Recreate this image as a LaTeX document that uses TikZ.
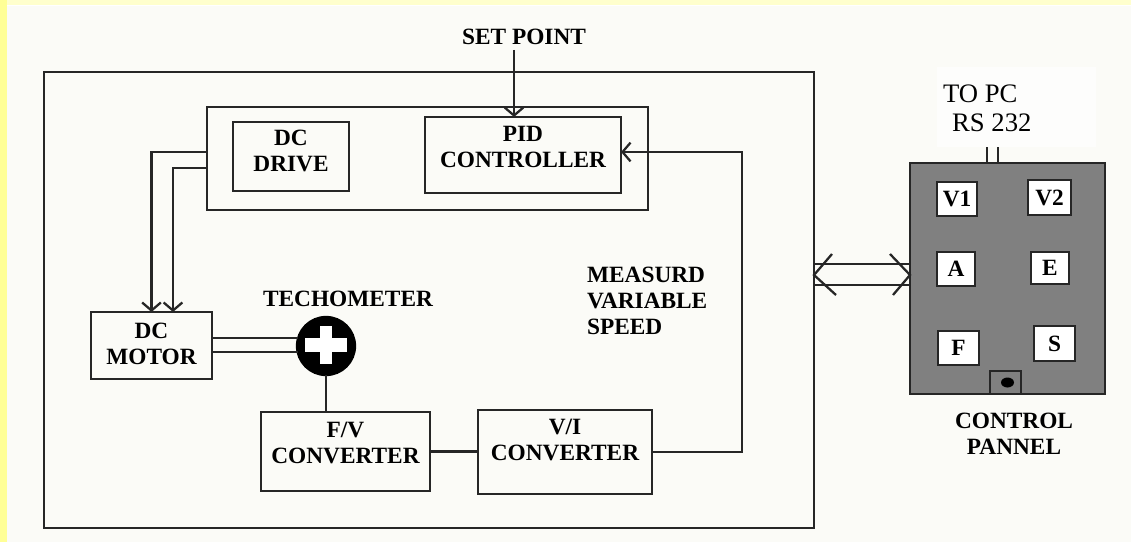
\documentclass[tikz,border=0pt]{standalone}
\usepackage{fontspec}
\setmainfont{Liberation Serif}
\usetikzlibrary{arrows.meta,calc}

\definecolor{paper}{RGB}{251,251,247}
\definecolor{edgeyel}{RGB}{255,255,150}
\definecolor{topyel}{RGB}{255,255,205}
\definecolor{ink}{RGB}{38,38,38}
\definecolor{panelgray}{RGB}{128,128,128}

\tikzset{every picture/.style={line width=1.7pt}}
\tikzset{
  blk/.style={draw=ink, anchor=north west, outer sep=0pt, inner sep=2pt, align=center, font=\fontsize{17.5}{19.5}\selectfont\bfseries},
  key/.style={draw=ink, fill=white, anchor=north west, outer sep=0pt, inner sep=0pt, font=\fontsize{17.5}{19.5}\selectfont\bfseries},
  lbl/.style={inner sep=0pt, font=\fontsize{17.5}{19.5}\selectfont\bfseries},
  plain/.style={inner sep=0pt, anchor=west, font=\fontsize{20}{22}\selectfont},
  sig/.style={draw=ink, -{Straight Barb[length=6pt,width=14pt]}},
  wire/.style={draw=ink}
}

\begin{document}
\begin{tikzpicture}[x=0.75pt,y=0.75pt,yscale=-1,xscale=1]
		%Background
		\fill[white] (0,0) rectangle (1139,542);
		\fill[paper] (7,6) rectangle (1131,542);
		\fill[edgeyel] (0,0) rectangle (7,542);
		\fill[topyel] (7,0) rectangle (1131,5);
		\fill[white!60!paper] (937,67) rectangle (1096,147);
		\useasboundingbox (0,0) rectangle (1139,542);

		%Shape: Rectangle [plant]
		\node[blk, minimum width=577.5pt, minimum height=342pt] (sysbox) at (44,72) {};
		%Shape: Rectangle [drive + pid]
		\node[blk, minimum width=330.75pt, minimum height=77.25pt] (ctrlgrp) at (207,107) {};
		\node[blk, minimum width=87pt, minimum height=51.75pt, text depth=9pt] (drive) at (233,122) {DC\\DRIVE};
		\node[blk, minimum width=147pt, minimum height=57pt, text depth=12pt] (pid) at (425,117) {PID\\CONTROLLER};
		\node[blk, minimum width=90.75pt, minimum height=50.25pt, text depth=3pt] (motor) at (91,312) {DC\\MOTOR};
		\node[blk, minimum width=126.75pt, minimum height=59.25pt, text depth=13.5pt] (fv) at (261,412) {F/V\\CONVERTER};
		\node[blk, minimum width=130.5pt, minimum height=63pt, text depth=18pt] (vi) at (478,410) {V/I\\CONVERTER};

		%Shape: Circle [tachometer]
		\node[circle, draw=black, fill=black, minimum size=43.5pt, inner sep=0pt, outer sep=0pt] (tach) at (326,346) {};
		\fill[white] ($(tach)+(-21,-8)$) rectangle ($(tach)+(21,6)$);
		\fill[white] ($(tach)+(-6,-20)$) rectangle ($(tach)+(6,18)$);

		%Shape: Rectangle [control panel]
		\node[draw=ink, fill=panelgray, anchor=north west, minimum width=146.25pt, minimum height=173.25pt, outer sep=0pt] (panel) at (910,163) {};
		\node[key, minimum width=30pt, minimum height=25.5pt] (kv1) at (937,182) {V1};
		\node[key, minimum width=32.25pt, minimum height=26.25pt] (kv2) at (1028,180) {V2};
		\node[key, minimum width=28.5pt, minimum height=25.5pt] (ka) at (937,252) {A};
		\node[key, minimum width=28.5pt, minimum height=24pt] (ke) at (1031,252) {E};
		\node[key, minimum width=30.75pt, minimum height=25.5pt] (kf) at (938,331) {F};
		\node[key, minimum width=30.75pt, minimum height=26.25pt] (ks) at (1034,326) {S};
		\node[draw=ink, anchor=north west, minimum width=23.25pt, minimum height=17.25pt, outer sep=0pt] (port) at (990,371) {};
		\fill[black] ($(port)+(2,0)$) ellipse (6.5 and 5);

		% Text Node
		\node[lbl] (setpt) at (524,37) {SET POINT};
		% Text Node
		\node[lbl] (tacholbl) at (348,298.5) {TECHOMETER};
		% Text Node
		\node[lbl, anchor=west, align=left] (measlbl) at (586,300.5) {MEASURD\\VARIABLE\\SPEED};
		% Text Node
		\node[lbl, align=center] (panellbl) at (1014,433.5) {CONTROL\\PANNEL};
		% Text Node
		\node[plain] (topc) at (942,94) {TO PC};
		% Text Node
		\node[plain] (rslbl) at (951,123) {RS 232};

		%Connectors
		\coordinate (spin) at ($(setpt.south)+(-10,4)$);
		\draw[sig] (spin) -- (spin |- pid.north);
		\draw[sig] (ctrlgrp.west |- 0,152) -| (motor.north);
		\draw[sig] (ctrlgrp.west |- 0,168) -| ($(motor.north)+(21.5,0)$);
		\draw[wire] (motor.east |- tach.164) -- (tach.164);
		\draw[wire] (motor.east |- tach.192) -- (tach.192);
		\draw[wire] (tach.south) -- (tach.south |- fv.north);
		\draw[wire] (fv.east) -- (fv.east -| vi.west);
		\coordinate (fbk) at (742,152);
		\draw[sig] (vi.east) -| (fbk) -- (fbk -| pid.east);

		%Double arrow to panel
		\draw[wire] (sysbox.east |- 0,264) -- (panel.west |- 0,264);
		\draw[wire] (sysbox.east |- 0,285) -- (panel.west |- 0,285);
		\draw[wire] ($(sysbox.east |- 0,275)+(18,-21)$) -- (sysbox.east |- 0,275) -- ++(22,20);
		\draw[wire] ($(panel.west |- 0,275)+(-20,-21)$) -- (panel.west |- 0,275) -- ++(-17,20);

		%RS 232 lead
		\coordinate (rsa) at (987,147);
		\coordinate (rsb) at (998,147);
		\draw[wire] (rsa) -- (rsa |- panel.north);
		\draw[wire] (rsb) -- (rsb |- panel.north);

	\end{tikzpicture}
\end{document}
